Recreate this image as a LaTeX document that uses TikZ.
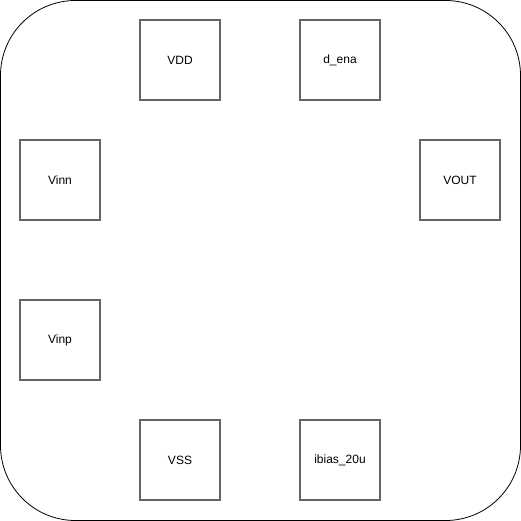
\documentclass[tikz,border=0pt]{standalone}
\usepackage{fontspec}
\setmainfont{Liberation Sans}
\begin{document}
\begin{tikzpicture}[x=1pt,y=-1pt,
        pin/.style={draw=black!60,line width=1.2pt,minimum size=80pt,inner sep=0pt,font=\fontsize{12}{14}\selectfont}]
        \useasboundingbox (0,0) rectangle (521,521);
        \draw [black,line width=0.8pt,rounded corners=75pt] (0.5,0.5) rectangle (520.5,520.5);
        \node [pin] (vdd) at (180,60) {VDD};
        \node [pin] (dena) at (340,60) {d\_ena};
        \node [pin] (vinn) at (60,180) {Vinn};
        \node [pin] (vout) at (460,180) {VOUT};
        \node [pin] (vinp) at (60,340) {Vinp};
        \node [pin] (vss) at (180,460) {VSS};
        \node [pin] (ibias) at (340,460) {ibias\_20u};
\end{tikzpicture}
\end{document}
